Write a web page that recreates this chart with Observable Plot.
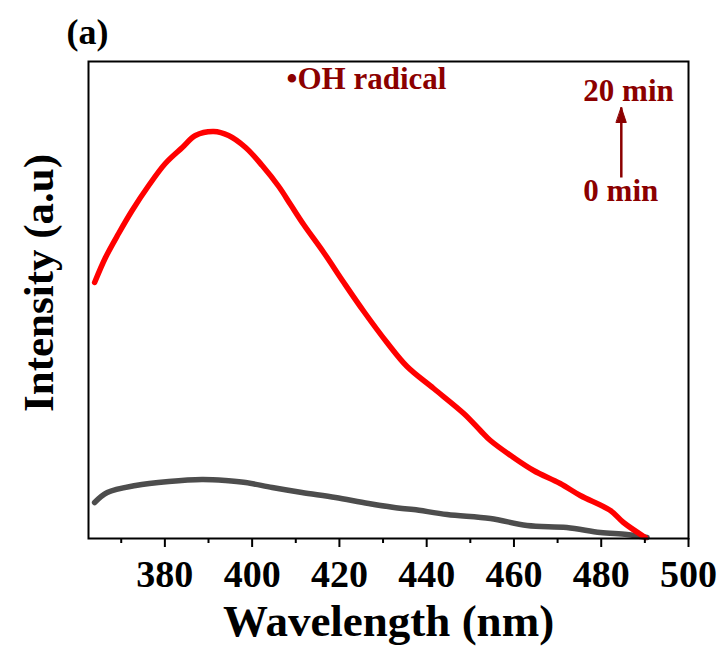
<!DOCTYPE html>
<html>
<head>
<meta charset="utf-8">
<script src="https://cdn.jsdelivr.net/npm/d3@7"></script>
<script src="https://cdn.jsdelivr.net/npm/@observablehq/plot@0.6"></script>
<style>
  html, body { margin: 0; padding: 0; background: #fff; }
</style>
</head>
<body>
<div id="chart"></div>
<script>
// ---- data ----
const redWavelength = [363.9, 366.4, 369.4, 372.5, 376.3, 380.1, 384.0, 387.0, 391.2, 394.6,
  398.5, 402.3, 406.1, 408.8, 411.8, 416.4, 421.0, 425.6, 430.9, 435.5,
  441.6, 448.5, 452.3, 454.6, 459.9, 464.5, 470.6, 475.2, 482.1, 485.1, 490.1];
const redIntensity = [256, 281, 305, 328, 353, 375, 391, 403, 407, 403,
  391, 373, 352, 334, 314, 286, 256, 227, 196, 172,
  150, 125, 108, 98, 81, 68, 55, 43, 28, 16, 1];

const grayWavelength = [363.9, 366.8, 373.3, 380.9, 388.5, 393.9, 398.5, 404.6, 411.4, 419.1,
  426.7, 434.4, 437.0, 444.7, 454.6, 463.0, 472.1, 479.8, 485.9, 490.5];
const grayIntensity = [36, 46, 53, 57, 59, 58, 56, 51, 46, 41,
  35, 30, 29, 24, 20, 13, 11, 6, 4, 1];

const majorTicks = [380, 400, 420, 440, 460, 480, 500];
const minorTicks = [370, 390, 410, 430, 450, 470, 490];

const xTitle = "Wavelength (nm)";
const yTitle = "Intensity (a.u)";
const panelLabel = "(a)";
const speciesLabel = "•OH radical";
const timeLabels = ["20 min", "0 min"];

// ---- build tables ----
const red = redWavelength.map((w, i) => ({w, v: redIntensity[i]}));
const gray = grayWavelength.map((w, i) => ({w, v: grayIntensity[i]}));

const darkRed = "#8b0000";
const font = "'Liberation Serif', 'Times New Roman', serif";

// annotation anchors in data units
const speciesAnno = [{w: 407.9, v: 450, t: speciesLabel}];
const timeAnno = [{w: 475.9, v: 438, t: timeLabels[0]}, {w: 475.9, v: 338, t: timeLabels[1]}];
const arrowAnno = [{w: 484.6, v1: 361, v2: 431}];

const headShape = {
  draw(ctx, l, r) {
    ctx.moveTo(0, -l);
    ctx.lineTo(r, 0);
    ctx.lineTo(-r, 0);
    ctx.closePath();
  }
};

const chart = Plot.plot({
  width: 725,
  height: 650,
  marginLeft: 88,
  marginRight: 37,
  marginTop: 61,
  marginBottom: 112,
  style: {fontFamily: font, background: "#fff", color: "#000"},
  x: {domain: [362.5, 500], axis: null},
  y: {domain: [0, 477], axis: null},
  marks: [
    Plot.line(gray, {x: "w", y: "v", stroke: "#4d4d4d", strokeWidth: 5.5, curve: "catmull-rom"}),
    Plot.line(red, {x: "w", y: "v", stroke: "#ff0000", strokeWidth: 5.5, curve: "catmull-rom"}),
    Plot.frame({stroke: "#000", strokeWidth: 2}),
    Plot.axisX(majorTicks, {anchor: "bottom", label: null, tickSize: 9, tickPadding: 13,
      fontSize: 38, fontWeight: "bold", strokeWidth: 2, tickFormat: d => String(d)}),
    Plot.axisX(minorTicks, {anchor: "bottom", label: null, tickSize: 5, strokeWidth: 2,
      tickFormat: () => ""}),
    Plot.text([xTitle], {frameAnchor: "bottom", dy: 97, lineAnchor: "bottom",
      fontSize: 45, fontWeight: "bold", fill: "#000"}),
    Plot.text([yTitle], {frameAnchor: "left", dx: -36, dy: -17, rotate: -90, textAnchor: "middle",
      lineAnchor: "bottom", fontSize: 43, fontWeight: "bold", fill: "#000"}),
    Plot.text([panelLabel], {frameAnchor: "top-left", dx: -22, dy: -18, textAnchor: "start",
      lineAnchor: "bottom", fontSize: 36, fontWeight: "bold", fill: "#000"}),
    Plot.text(speciesAnno, {x: "w", y: "v", text: "t", textAnchor: "start", lineAnchor: "bottom",
      fontSize: 31, fontWeight: "bold", fill: darkRed}),
    Plot.text(timeAnno, {x: "w", y: "v", text: "t", textAnchor: "start", lineAnchor: "bottom",
      fontSize: 31, fontWeight: "bold", fill: darkRed}),
    Plot.link(arrowAnno, {x1: "w", x2: "w", y1: "v1", y2: "v2", stroke: darkRed, strokeWidth: 2.5}),
    Plot.vector(arrowAnno, {x: "w", y: "v2", length: 15, r: 5, anchor: "end", rotate: 0,
      shape: headShape, fill: darkRed, stroke: darkRed, strokeWidth: 1})
  ]
});

document.getElementById("chart").appendChild(chart);
</script>
</body>
</html>
